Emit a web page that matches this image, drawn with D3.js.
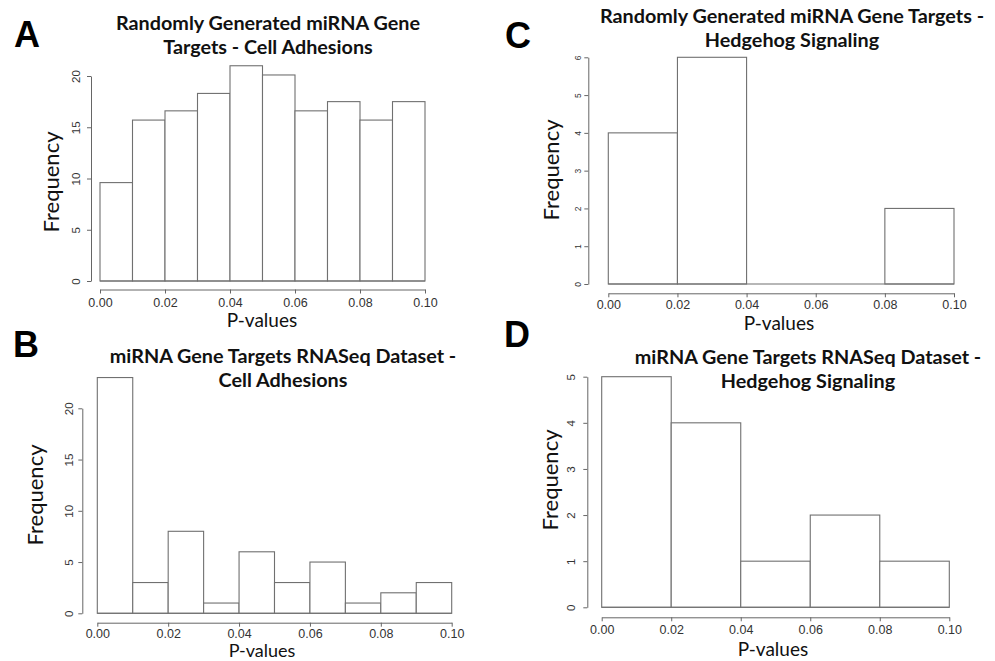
<!DOCTYPE html>
<html>
<head>
<meta charset="utf-8">
<script src="https://cdn.jsdelivr.net/npm/d3@7"></script>
<style>
  body { margin: 0; background: #fff; }
  svg { display: block; }
</style>
</head>
<body>
<script>
// tick values / labels shared by all four histograms
const pTickValues = [0, 0.02, 0.04, 0.06, 0.08, 0.1];
const pTickLabels = ["0.00", "0.02", "0.04", "0.06", "0.08", "0.10"];

// bar counts
const countsA = [9.6, 15.7, 16.6, 18.3, 21.0, 20.1, 16.6, 17.5, 15.7, 17.5];
const countsB = [23, 3, 8, 1, 6, 3, 5, 1, 2, 3];
const countsC = [4, 6, 0, 0, 2];
const countsD = [5, 4, 1, 2, 1];

const freqTicksA = [0, 5, 10, 15, 20];
const freqTicksB = [0, 5, 10, 15, 20];
const freqTicksC = [0, 1, 2, 3, 4, 5, 6];
const freqTicksD = [0, 1, 2, 3, 4, 5];

const titleA = ["Randomly Generated miRNA Gene", "Targets - Cell Adhesions"];
const titleB = ["miRNA Gene Targets RNASeq Dataset -", "Cell Adhesions"];
const titleC = ["Randomly Generated miRNA Gene Targets -", "Hedgehog Signaling"];
const titleD = ["miRNA Gene Targets RNASeq Dataset -", "Hedgehog Signaling"];

const width = 995;
const height = 661;

const svg = d3.select('body')
    .append('svg')
    .attr('width', width)
    .attr('height', height);

// layout of each panel (pixel positions measured on the reference)
const panels = [
    { letter: 'A', lx: 27, ly: 47, counts: countsA, ticks: freqTicksA, title: titleA,
      xr: [100, 425], yr: [281, 76], xAxisY: 289.5, yAxisX: 91, yLabOff: 11, yFont: 11.5,
      tx: 268, ty: 30, fx: 51, fy: 182, tickY: 306.5, px: 262, py: 327 },
    { letter: 'B', lx: 26, ly: 357, counts: countsB, ticks: freqTicksB, title: titleB,
      xr: [97.3, 451.7], yr: [613.3, 408.3], xAxisY: 622.7, yAxisX: 82.3, yLabOff: 9, yFont: 11.5,
      tx: 283, ty: 363, fx: 35, fy: 495, tickY: 638.5, px: 262, py: 657, pFont: 18 },
    { letter: 'C', lx: 518, ly: 48, counts: countsC, ticks: freqTicksC, title: titleC,
      xr: [608.3, 954], yr: [284, 57.3], xAxisY: 293.3, yAxisX: 588.3, yLabOff: 7, yFont: 8.5,
      tx: 792, ty: 23, fx: 551.7, fy: 170, tickY: 309.5, px: 779, py: 330 },
    { letter: 'D', lx: 517, ly: 347, counts: countsD, ticks: freqTicksD, title: titleD,
      xr: [601.7, 949.3], yr: [607.3, 376.7], xAxisY: 617.3, yAxisX: 587.3, yLabOff: 12, yFont: 11.5,
      tx: 808, ty: 364, fx: 550, fy: 480, tickY: 634.5, px: 773, py: 656 }
];

const axisColor = '#666';
const tickFont = '"Liberation Sans", Arial, sans-serif';
const textFont = 'Lato, "Open Sans", sans-serif';

const drawPanel = (p) => {
    const g = svg.append('g');

    const x = d3.scaleLinear().domain([0, 0.1]).range(p.xr);
    const yMax = d3.max(p.ticks);
    const y = d3.scaleLinear().domain([0, yMax]).range(p.yr);
    const bw = 0.1 / p.counts.length;

    // bars
    g.append('g')
        .selectAll('rect')
        .data(p.counts)
        .join('rect')
        .attr('x', (d, i) => x(i * bw))
        .attr('width', (d, i) => x((i + 1) * bw) - x(i * bw))
        .attr('y', (d) => y(d))
        .attr('height', (d) => y(0) - y(d))
        .attr('fill', '#fff')
        .attr('stroke', '#707070')
        .attr('stroke-width', 1.1);

    // baseline so that empty bins still show
    g.append('line')
        .attr('x1', x(0)).attr('x2', x(0.1))
        .attr('y1', y(0)).attr('y2', y(0))
        .attr('stroke', '#707070')
        .attr('stroke-width', 1.1);

    // x axis
    const xa = g.append('g')
        .attr('transform', `translate(0,${p.xAxisY})`)
        .call(d3.axisBottom(x)
            .tickValues(pTickValues)
            .tickFormat((d, i) => pTickLabels[i])
            .tickSize(4)
            .tickSizeOuter(0));
    xa.select('.domain').attr('stroke', axisColor);
    xa.selectAll('line').attr('stroke', axisColor);
    xa.selectAll('text')
        .attr('y', p.tickY - p.xAxisY)
        .attr('dy', null)
        .attr('fill', '#333')
        .style('font-family', tickFont)
        .style('font-size', '12.5px');

    // y axis
    const ya = g.append('g')
        .attr('transform', `translate(${p.yAxisX},0)`)
        .call(d3.axisLeft(y)
            .tickValues(p.ticks)
            .tickFormat(d3.format('d'))
            .tickSize(4)
            .tickSizeOuter(0));
    ya.select('.domain').attr('stroke', axisColor);
    ya.selectAll('line').attr('stroke', axisColor);
    ya.selectAll('text')
        .attr('transform', 'rotate(-90)')
        .attr('x', 0)
        .attr('y', -p.yLabOff)
        .attr('dy', null)
        .attr('text-anchor', 'middle')
        .attr('fill', '#333')
        .style('font-family', tickFont)
        .style('font-size', p.yFont + 'px');

    // title
    g.append('g')
        .selectAll('text')
        .data(p.title)
        .join('text')
        .attr('x', p.tx)
        .attr('y', (d, i) => p.ty + i * 24)
        .attr('text-anchor', 'middle')
        .style('font-family', textFont)
        .style('font-weight', 'bold')
        .style('font-size', '19.8px')
        .attr('fill', '#111')
        .text((d) => d);

    // axis titles
    g.append('text')
        .attr('transform', `translate(${p.fx},${p.fy}) rotate(-90)`)
        .attr('text-anchor', 'middle')
        .attr('dy', '0.35em')
        .style('font-family', textFont)
        .style('font-size', '22px')
        .attr('fill', '#111')
        .text('Frequency');

    g.append('text')
        .attr('x', p.px)
        .attr('y', p.py)
        .attr('text-anchor', 'middle')
        .style('font-family', textFont)
        .style('font-size', (p.pFont || 19) + 'px')
        .attr('fill', '#111')
        .text('P-values');

    // panel letter
    g.append('text')
        .attr('x', p.lx)
        .attr('y', p.ly)
        .attr('text-anchor', 'middle')
        .style('font-family', tickFont)
        .style('font-weight', 'bold')
        .style('font-size', '36px')
        .attr('fill', '#000')
        .text(p.letter);
};

panels.forEach(drawPanel);
</script>
</body>
</html>
